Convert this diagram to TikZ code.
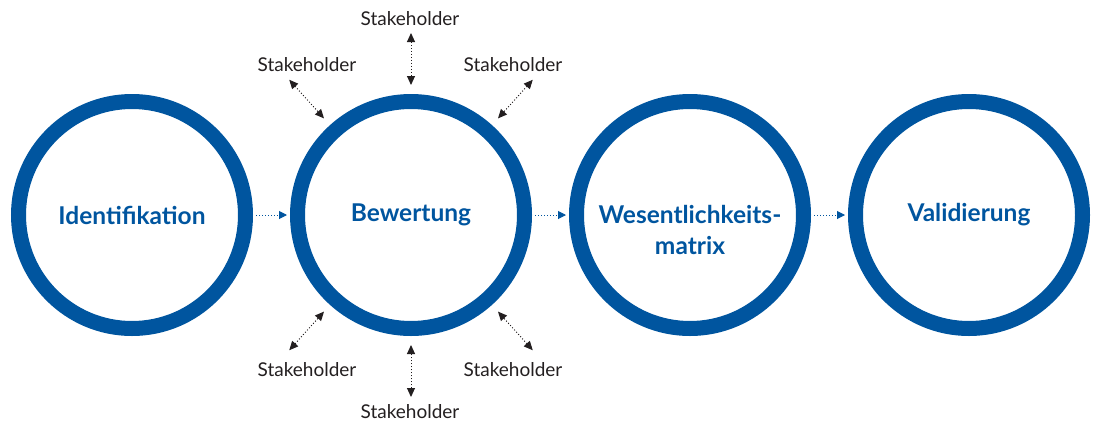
\documentclass[tikz,border=0pt]{standalone}
\usepackage{fontspec}
\setmainfont{Lato}
\usetikzlibrary{arrows.meta,calc}
\definecolor{ringblue}{HTML}{00559F}
\definecolor{inkgray}{HTML}{231F20}

\begin{document}
\begin{tikzpicture}[
    x=1pt,y=1pt,
    yscale=-1,xscale=1,
    every path/.append style ={line width = 1pt,},
    stage/.style = {circle, draw = ringblue, line width = 15pt,
        minimum size = 227pt, inner sep = 0pt, outer sep = 7.5pt},
    title/.style = {font = \fontsize{24.5}{31}\selectfont\bfseries,
        text = ringblue, align = center},
    holder/.style = {font = \fontsize{19}{21}\selectfont, text = inkgray},
    flow/.style = {draw = ringblue, dash pattern = on 1pt off 2pt,
        -{Triangle[length=8pt,width=8pt]},
        shorten <= 3pt, shorten >= 3pt},
    link/.style = {draw = inkgray, dash pattern = on 1pt off 2pt,
        {Triangle[length=9pt,width=8pt]}-{Triangle[length=9pt,width=8pt]}},
]
    \useasboundingbox (0,0) rectangle (1093,421);

    % 圆环
    \node [stage] (ident) at (132,215) {};
    \node [stage] (bew)   at (411,215) {};
    \node [stage] (wes)   at (690,215) {};
    \node [stage] (vali)  at (969,215) {};

    % 标题
    \node [title] (identtxt) at (ident) {Identifikation};
    \node [title] (bewtxt)   at (bew)   {Bewertung};
    \node [title] (westxt)   at ($(wes)+(0,15)$) {Wesentlichkeits-\\matrix};
    \node [title] (valitxt)  at (vali)  {Validierung};

    % 流程箭头
    \draw [flow] (ident) -- (bew);
    \draw [flow] (bew)   -- (wes);
    \draw [flow] (wes)   -- (vali);

    % 利益相关者
    \node [holder] (sh1) at (410,19)  {Stakeholder};
    \node [holder] (sh2) at (307,65)  {Stakeholder};
    \node [holder] (sh3) at (513,65)  {Stakeholder};
    \node [holder] (sh4) at (307,370) {Stakeholder};
    \node [holder] (sh5) at (513,370) {Stakeholder};
    \node [holder] (sh6) at (410,412) {Stakeholder};

    \foreach \ang/\i in {90/1, 132/2, 48/3, 228/4, 312/5, 270/6} {
        \coordinate (tip\i) at ($(bew.center)!182pt!(bew.\ang)$);
        \draw [link, shorten >= 9pt] (tip\i) -- (bew.\ang);
    }
\end{tikzpicture}
\end{document}
